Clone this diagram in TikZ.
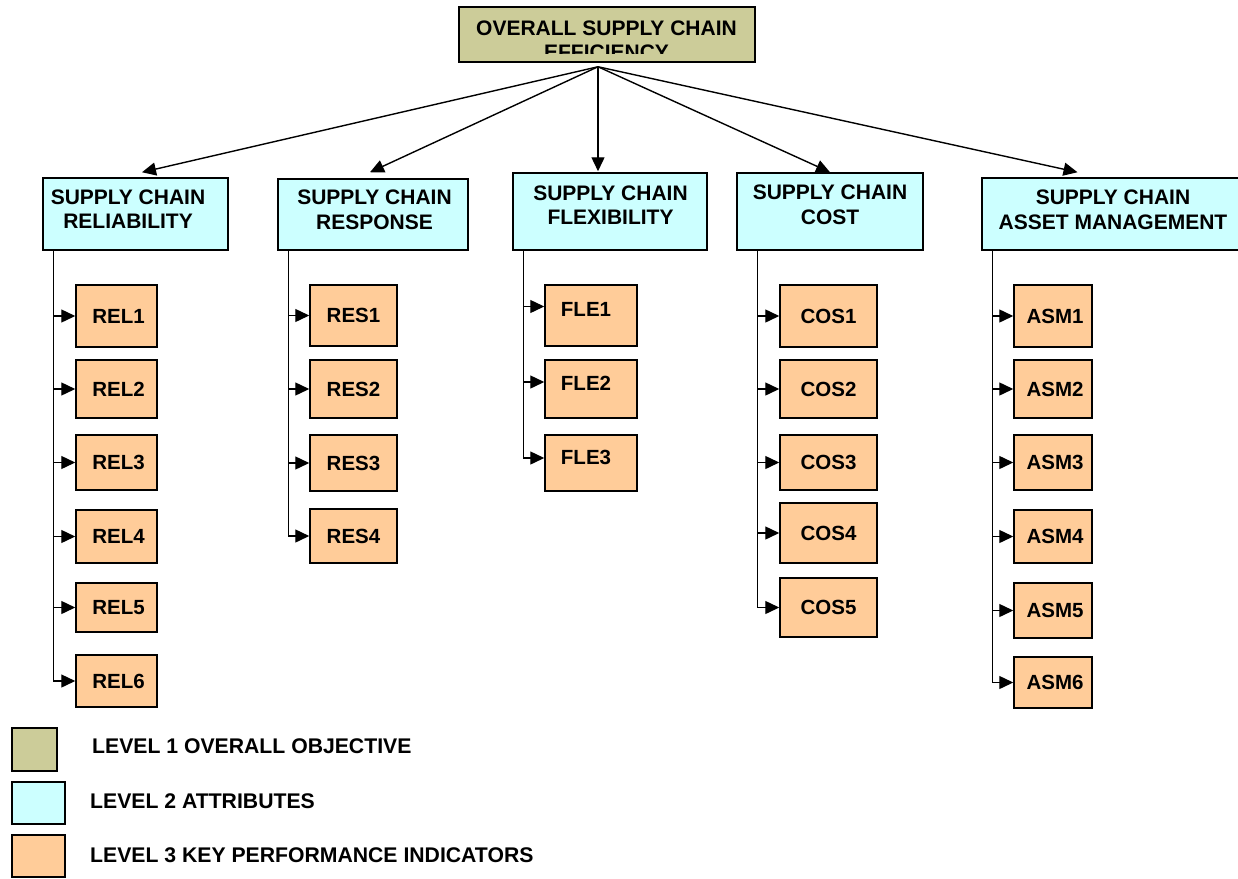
\documentclass[tikz,border=0pt]{standalone}
\usepackage{fontspec}
\setmainfont{Liberation Sans}
\usetikzlibrary{arrows.meta}
\definecolor{lvA}{RGB}{204,204,153}
\definecolor{lvB}{RGB}{204,255,255}
\definecolor{lvC}{RGB}{255,204,153}
\tikzset{
  boxbase/.style={draw=black, line width=1.5pt, inner sep=0pt},
  topbox/.style={boxbase, fill=lvA},
  attrbox/.style={boxbase, fill=lvB},
  kpibox/.style={boxbase, fill=lvC, font=\fontsize{20.5}{24}\selectfont\bfseries},
  flebox/.style={kpibox, text height=14pt, text depth=12pt},
  ttext/.style={inner sep=0pt, align=center, font=\fontsize{21}{24.5}\selectfont\bfseries},
  lgtext/.style={inner sep=0pt, anchor=west, font=\fontsize{21.2}{25}\selectfont\bfseries},
  conn/.style={line width=1.4pt, draw=black},
  tip/.style={-{Triangle[length=14pt,width=13pt]}},
}
\begin{document}
\begin{tikzpicture}[x=1pt,y=-1pt]
\useasboundingbox (0,0) rectangle (1238,878);

% Level 1
\node[topbox, minimum width=296pt, minimum height=55pt] (top) at (607,34.5) {};
\begin{scope}
  \clip ([yshift=9pt]top.south west) rectangle (top.north east);
  \node[ttext] (toptext) at (606.5,40.5) {OVERALL SUPPLY CHAIN\\EFFICIENCY};
\end{scope}

% Level 2
\node[attrbox, minimum width=185pt, minimum height=72pt] (rel) at (135.5,214) {};
\node[attrbox, minimum width=190pt, minimum height=71pt] (res) at (373,214.5) {};
\node[attrbox, minimum width=194pt, minimum height=77pt] (fle) at (610,211.5) {};
\node[attrbox, minimum width=186pt, minimum height=77pt] (cos) at (830,211.5) {};
\node[attrbox, minimum width=257pt, minimum height=72pt] (asm) at (1110.5,214) {};
\node[ttext] (reltext) at (128,209) {SUPPLY CHAIN\\RELIABILITY};
\node[ttext] (restext) at (374.5,210) {SUPPLY CHAIN\\RESPONSE};
\node[ttext] (fletext) at (610.5,205) {SUPPLY CHAIN\\FLEXIBILITY};
\node[ttext] (costext) at (830,205) {SUPPLY CHAIN\\COST};
\node[ttext] (asmtext) at (1113,210) {SUPPLY CHAIN\\ASSET MANAGEMENT};

% Level 1 -> Level 2
\coordinate (apex) at ([xshift=-9pt,yshift=-4pt]top.south);
\draw[conn,tip] (apex) -- ([xshift=6.5pt,yshift=5pt]rel.north);
\draw[conn,tip] (apex) -- ([xshift=-3pt,yshift=6pt]res.north);
\draw[conn,tip] (apex) -- ([xshift=-12pt,yshift=1pt]fle.north);
\draw[conn,tip] (apex) -- ([xshift=0pt,yshift=0pt]cos.north);
\draw[conn,tip] (apex) -- ([xshift=-33pt,yshift=5pt]asm.north);

% Level 3: reliability
\node[kpibox, minimum width=81pt, minimum height=62pt] (rel1) at (116.5,316) {\hspace*{4pt}REL1};
\node[kpibox, minimum width=81pt, minimum height=58pt] (rel2) at (116.5,389) {\hspace*{4pt}REL2};
\node[kpibox, minimum width=81pt, minimum height=55pt] (rel3) at (116.5,462.5) {\hspace*{4pt}REL3};
\node[kpibox, minimum width=81pt, minimum height=53pt] (rel4) at (116.5,536.5) {\hspace*{4pt}REL4};
\node[kpibox, minimum width=81pt, minimum height=49pt] (rel5) at (116.5,607.5) {\hspace*{4pt}REL5};
\node[kpibox, minimum width=81pt, minimum height=52pt] (rel6) at (116.5,681) {\hspace*{4pt}REL6};
\foreach \k in {1,...,6}
  \draw[conn,tip] ([xshift=11pt]rel.south west) |- (rel\k.west);

% Level 3: response
\node[kpibox, minimum width=87pt, minimum height=61pt] (res1) at (353.5,315.5) {RES1};
\node[kpibox, minimum width=87pt, minimum height=58pt] (res2) at (353.5,389) {RES2};
\node[kpibox, minimum width=87pt, minimum height=56pt] (res3) at (353.5,463) {RES3};
\node[kpibox, minimum width=87pt, minimum height=54pt] (res4) at (353.5,536) {RES4};
\foreach \k in {1,...,4}
  \draw[conn,tip] ([xshift=11pt]res.south west) |- (res\k.west);

% Level 3: flexibility
\node[flebox, minimum width=92pt, minimum height=61pt] (fle1) at (591,315.5) {FLE1\hspace*{10pt}};
\node[flebox, minimum width=92pt, minimum height=58pt] (fle2) at (591,389) {FLE2\hspace*{10pt}};
\node[flebox, minimum width=92pt, minimum height=56pt] (fle3) at (591,463) {FLE3\hspace*{10pt}};
\draw[conn,tip] ([xshift=11pt]fle.south west) |- ([yshift=9pt]fle1.west);
\draw[conn,tip] ([xshift=11pt]fle.south west) |- ([yshift=7pt]fle2.west);
\draw[conn,tip] ([xshift=11pt]fle.south west) |- ([yshift=5pt]fle3.west);

% Level 3: cost
\node[kpibox, minimum width=97pt, minimum height=62pt] (cos1) at (828.5,316) {COS1};
\node[kpibox, minimum width=97pt, minimum height=58pt] (cos2) at (828.5,389) {COS2};
\node[kpibox, minimum width=97pt, minimum height=55pt] (cos3) at (828.5,462.5) {COS3};
\node[kpibox, minimum width=97pt, minimum height=60pt] (cos4) at (828.5,533) {COS4};
\node[kpibox, minimum width=97pt, minimum height=59pt] (cos5) at (828.5,607.5) {COS5};
\foreach \k in {1,...,5}
  \draw[conn,tip] ([xshift=21pt]cos.south west) |- (cos\k.west);

% Level 3: asset management
\node[kpibox, minimum width=78pt, minimum height=62pt] (asm1) at (1053,316) {\hspace*{4pt}ASM1};
\node[kpibox, minimum width=78pt, minimum height=58pt] (asm2) at (1053,389) {\hspace*{4pt}ASM2};
\node[kpibox, minimum width=78pt, minimum height=55pt] (asm3) at (1053,462.5) {\hspace*{4pt}ASM3};
\node[kpibox, minimum width=78pt, minimum height=53pt] (asm4) at (1053,536.5) {\hspace*{4pt}ASM4};
\node[kpibox, minimum width=78pt, minimum height=55pt] (asm5) at (1053,610.5) {\hspace*{4pt}ASM5};
\node[kpibox, minimum width=78pt, minimum height=51pt] (asm6) at (1053,682.5) {\hspace*{4pt}ASM6};
\foreach \k in {1,...,6}
  \draw[conn,tip] ([xshift=11pt]asm.south west) |- (asm\k.west);

% Legend
\node[boxbase, fill=lvA, minimum width=45pt, minimum height=43pt] (lg1) at (34.5,749.5) {};
\node[boxbase, fill=lvB, minimum width=53pt, minimum height=42pt] (lg2) at (38.5,803) {};
\node[boxbase, fill=lvC, minimum width=53pt, minimum height=42pt] (lg3) at (38.5,856) {};
\node[lgtext] (lt1) at (92,746) {LEVEL 1 OVERALL OBJECTIVE};
\node[lgtext] (lt2) at (90,801) {LEVEL 2 ATTRIBUTES};
\node[lgtext] (lt3) at (90,855) {LEVEL 3 KEY PERFORMANCE INDICATORS};
\end{tikzpicture}
\end{document}
